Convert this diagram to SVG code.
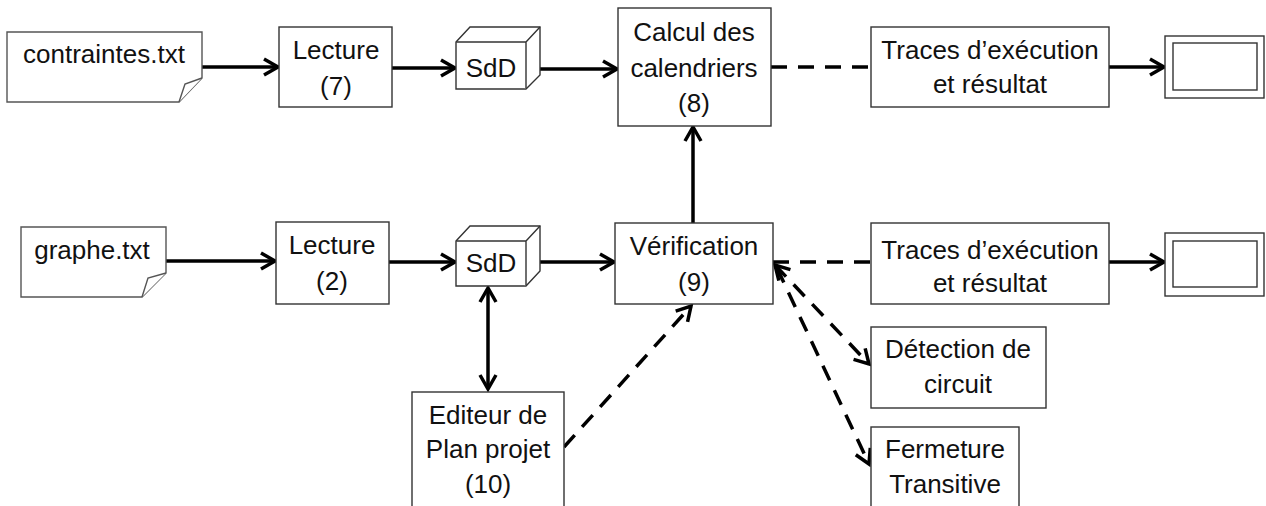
<svg xmlns="http://www.w3.org/2000/svg" width="1266" height="506" viewBox="0 0 1266 506">
<style>
.box{fill:#fff;stroke:#333;stroke-width:1.4}
.doc{fill:#fff;stroke:#555;stroke-width:1.4}
.t{font-family:"Liberation Sans",Arial,sans-serif;font-size:26px;fill:#111;text-anchor:middle}
.c{fill:none;stroke:#000;stroke-width:3.5}
.d{stroke-dasharray:16,11}
</style>
<defs>
<marker id="ah" markerUnits="userSpaceOnUse" markerWidth="30" markerHeight="30" viewBox="-20 -15 30 30" refX="0" refY="0" orient="auto-start-reverse">
<path d="M-14,-8 L0,0 L-14,8" fill="none" stroke="#000" stroke-width="3.5" stroke-dasharray="none"/>
</marker>
</defs>
<rect width="1266" height="506" fill="#fff"/>

<g id="connectors">
<line class="c" x1="202" y1="67" x2="278" y2="67" marker-end="url(#ah)"/>
<line class="c" x1="392" y1="68" x2="455" y2="68" marker-end="url(#ah)"/>
<line class="c" x1="526" y1="69" x2="617" y2="69" marker-end="url(#ah)"/>
<line class="c d" x1="771" y1="67" x2="871" y2="67"/>
<line class="c" x1="1109" y1="67" x2="1164" y2="67" marker-end="url(#ah)"/>
<line class="c" x1="166" y1="261" x2="275" y2="261" marker-end="url(#ah)"/>
<line class="c" x1="389" y1="262" x2="455" y2="262" marker-end="url(#ah)"/>
<line class="c" x1="526" y1="262" x2="614" y2="262" marker-end="url(#ah)"/>
<line class="c d" x1="773" y1="262" x2="871" y2="262"/>
<line class="c" x1="1109" y1="262" x2="1164" y2="262" marker-end="url(#ah)"/>
<line class="c" x1="693" y1="223" x2="693" y2="127" marker-end="url(#ah)"/>
<line class="c" x1="488" y1="288" x2="488" y2="389" marker-start="url(#ah)" marker-end="url(#ah)"/>
<line class="c d" x1="564" y1="447" x2="691" y2="306" marker-end="url(#ah)"/>
<line class="c d" x1="775" y1="265" x2="869" y2="364" marker-start="url(#ah)" marker-end="url(#ah)"/>
<line class="c d" x1="777" y1="268" x2="869" y2="464" marker-end="url(#ah)"/>
</g>

<g id="contraintes">
<path class="doc" d="M7,32 H202 V78 L179,102 H7 Z"/>
<path class="doc" d="M179,102 L185,84 L202,78"/>
<text class="t" x="104" y="63">contraintes.txt</text>
</g>
<g id="lecture7">
<rect class="box" x="279" y="27" width="113" height="80"/>
<text class="t" x="336" y="59">Lecture</text>
<text class="t" x="336" y="95">(7)</text>
</g>
<g id="sdd1">
<path class="box" d="M456,42 L470,27 H540 V75 L526,89 H456 Z"/>
<path class="box" d="M456,42 H526 V89 M526,42 L540,27" fill="none"/>
<text class="t" x="491" y="77">SdD</text>
</g>
<g id="calcul">
<rect class="box" x="618" y="8" width="153" height="118"/>
<text class="t" x="694" y="41">Calcul des</text>
<text class="t" x="694" y="77">calendriers</text>
<text class="t" x="694" y="112">(8)</text>
</g>
<g id="traces1">
<rect class="box" x="871" y="27" width="238" height="80"/>
<text class="t" x="990" y="59">Traces d’exécution</text>
<text class="t" x="990" y="93">et résultat</text>
</g>
<g id="display1">
<rect class="box" x="1165" y="36" width="99" height="62"/>
<rect class="box" x="1173" y="43" width="84" height="47"/>
</g>

<g id="graphe">
<path class="doc" d="M21,227 H166 V273 L142,297 H21 Z"/>
<path class="doc" d="M142,297 L148,278 L166,273"/>
<text class="t" x="92" y="259">graphe.txt</text>
</g>
<g id="lecture2">
<rect class="box" x="276" y="222" width="113" height="82"/>
<text class="t" x="332" y="254">Lecture</text>
<text class="t" x="332" y="290">(2)</text>
</g>
<g id="sdd2">
<path class="box" d="M456,241 L470,226 H540 V271 L526,286 H456 Z"/>
<path class="box" d="M456,241 H526 V286 M526,241 L540,226" fill="none"/>
<text class="t" x="491" y="272">SdD</text>
</g>
<g id="verification">
<rect class="box" x="615" y="223" width="158" height="81"/>
<text class="t" x="694" y="255">Vérification</text>
<text class="t" x="694" y="291">(9)</text>
</g>
<g id="traces2">
<rect class="box" x="871" y="223" width="238" height="81"/>
<text class="t" x="990" y="259">Traces d’exécution</text>
<text class="t" x="990" y="292">et résultat</text>
</g>
<g id="display2">
<rect class="box" x="1165" y="233" width="99" height="63"/>
<rect class="box" x="1173" y="241" width="84" height="46"/>
</g>

<g id="editeur">
<rect class="box" x="412" y="392" width="152" height="120"/>
<text class="t" x="488" y="424">Editeur de</text>
<text class="t" x="488" y="458">Plan projet</text>
<text class="t" x="488" y="493">(10)</text>
</g>
<g id="detection">
<rect class="box" x="871" y="327" width="175" height="81"/>
<text class="t" x="958" y="358">Détection de</text>
<text class="t" x="958" y="393">circuit</text>
</g>
<g id="fermeture">
<rect class="box" x="871" y="427" width="148" height="90"/>
<text class="t" x="945" y="458">Fermeture</text>
<text class="t" x="945" y="493">Transitive</text>
</g>
</svg>
